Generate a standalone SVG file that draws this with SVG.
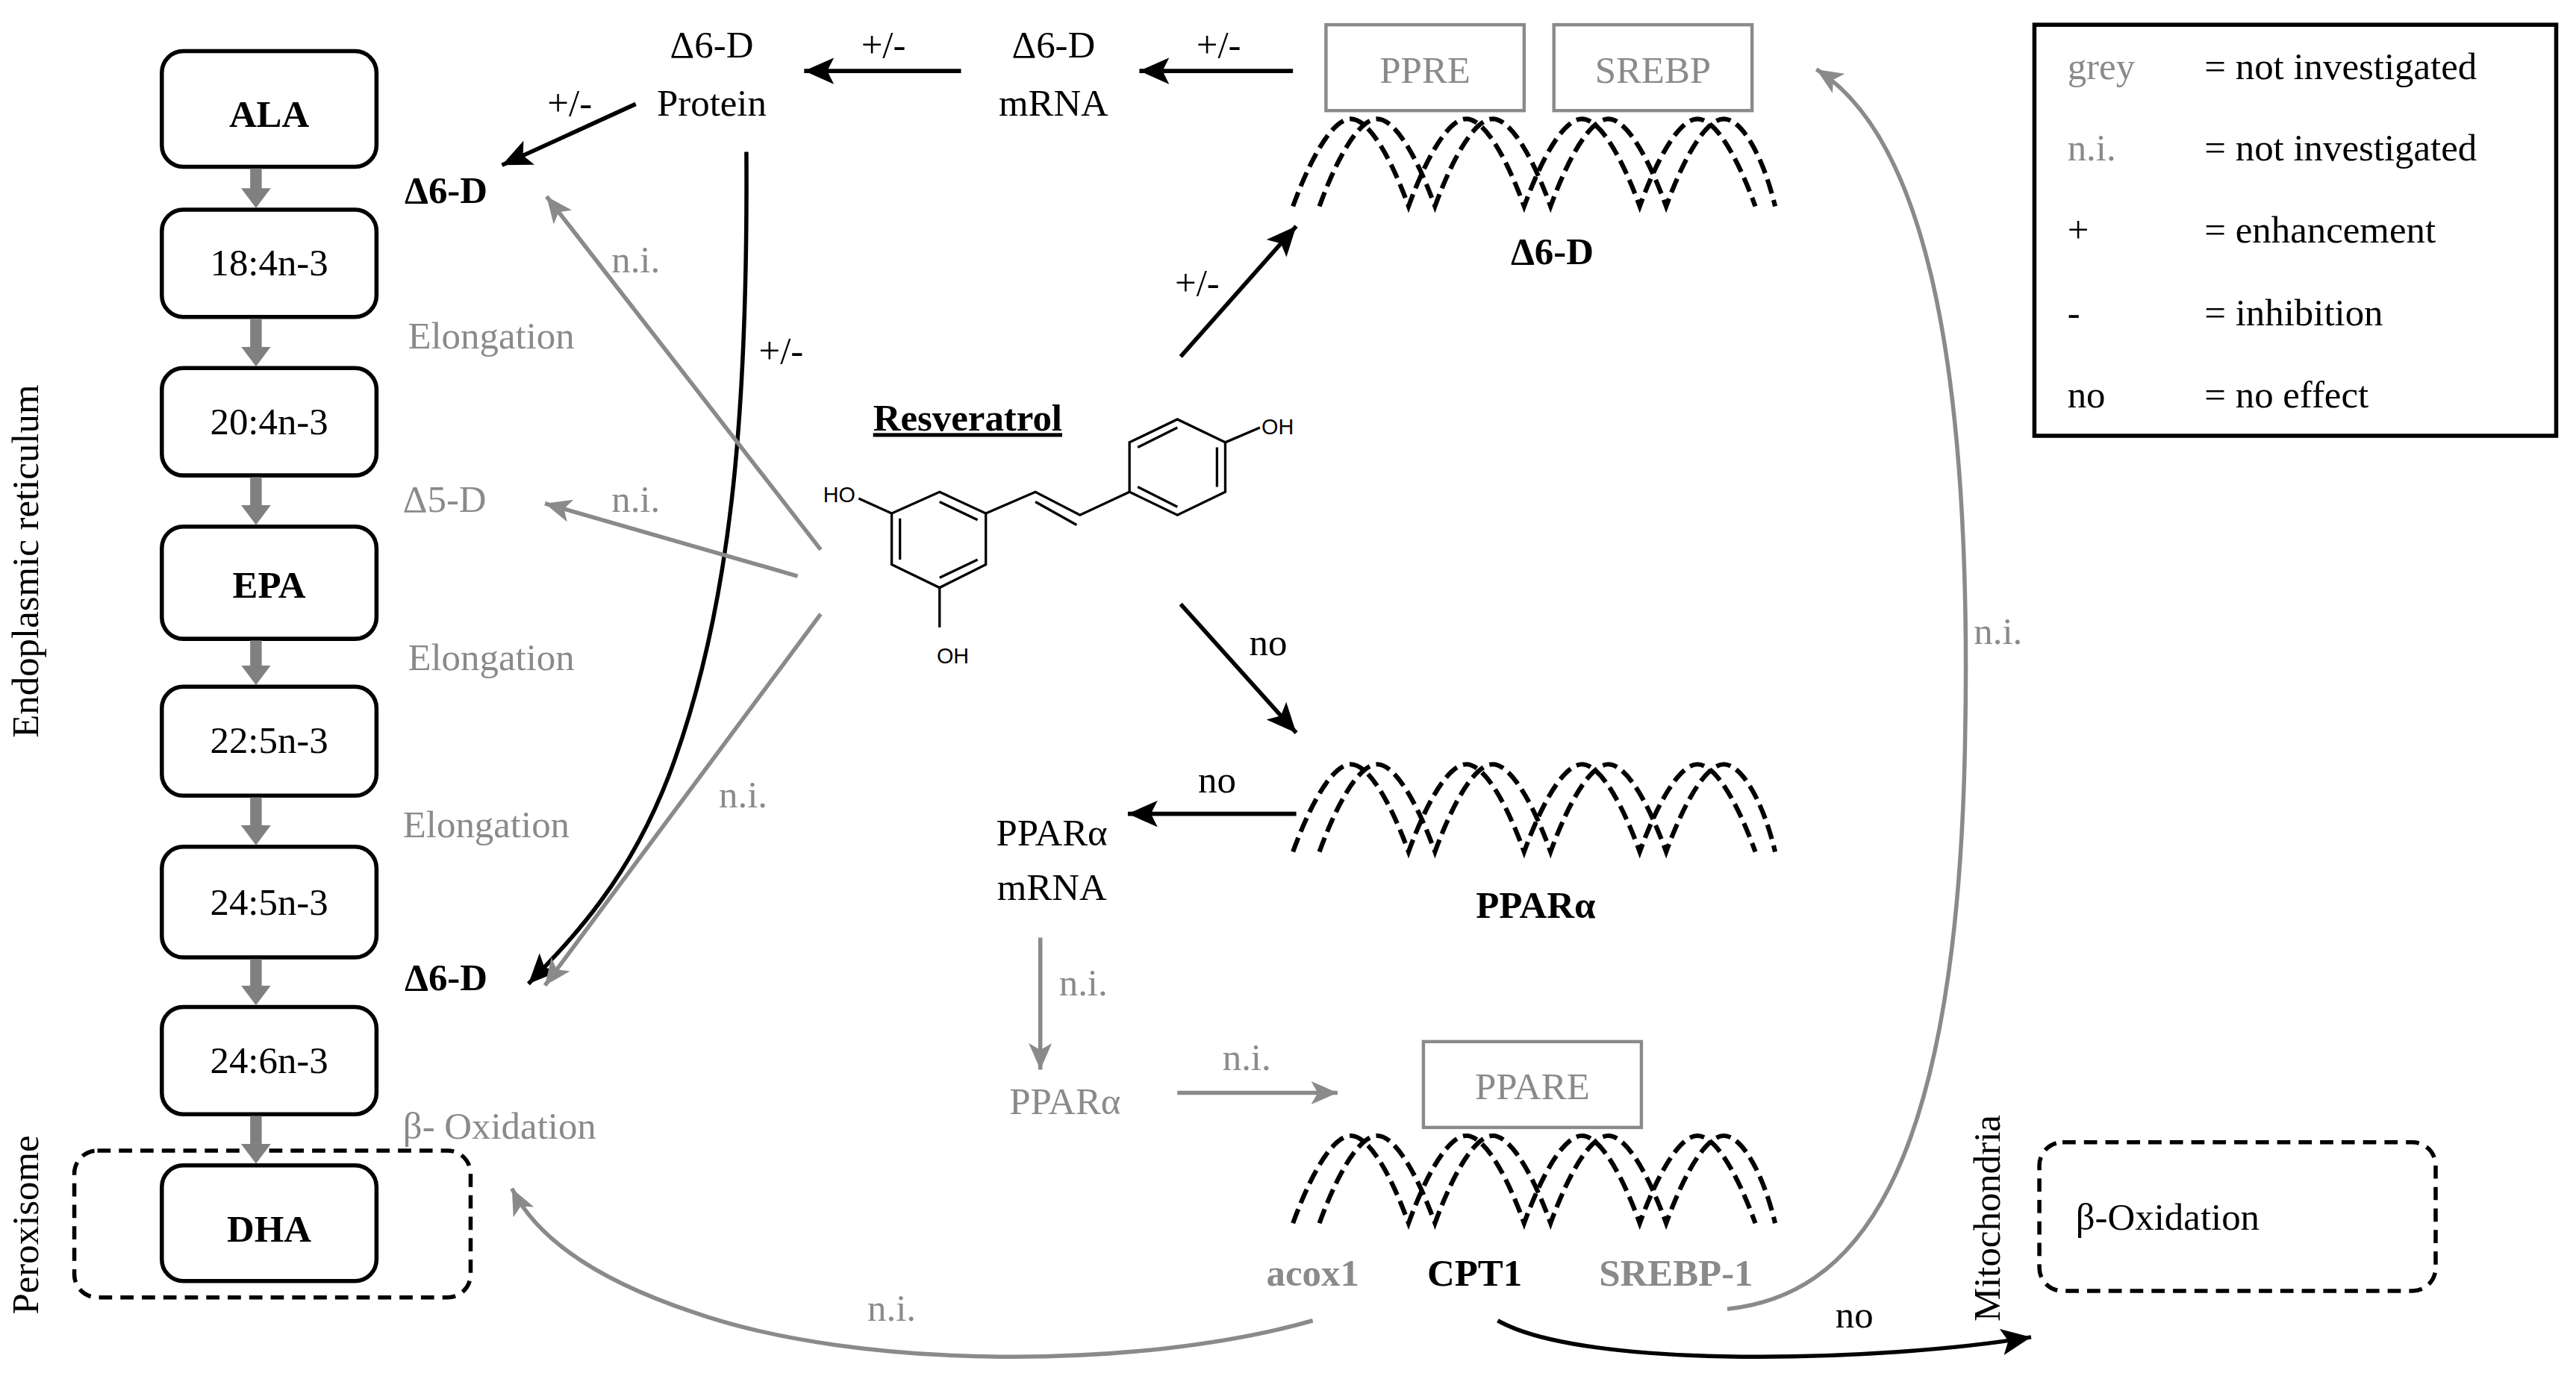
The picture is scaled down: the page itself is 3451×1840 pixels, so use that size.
<svg xmlns="http://www.w3.org/2000/svg" xmlns:xlink="http://www.w3.org/1999/xlink" width="3451" height="1840" viewBox="0 0 3451 1840">
<style>
.t,.g{font-family:'Liberation Serif','Times New Roman',serif;}
.t{font-size:23px;fill:#000;}
.g{font-size:23px;fill:#8a8a8a;}
.b{font-weight:bold;}
.box{fill:#fff;stroke:#000;stroke-width:2.5;}
.gbox{fill:#fff;stroke:#8a8a8a;stroke-width:2;}
.blk{stroke:#000;stroke-width:2.5;fill:none;}
.gry{stroke:#8a8a8a;stroke-width:2.5;fill:none;}
.step{stroke:#808080;stroke-width:7;fill:none;}
.dash{fill:none;stroke:#000;stroke-width:2.8;stroke-dasharray:9 4;}
.mol{stroke:#000;stroke-width:1.5;fill:none;}
.ml{font-family:'Liberation Sans',Arial,sans-serif;font-size:13px;}
</style>
<defs>
<marker id="ab" markerUnits="userSpaceOnUse" markerWidth="20" markerHeight="16" refX="18" refY="8" orient="auto"><path d="M0,0 L18,8 L0,16 L4,8 Z" fill="#000"/></marker>
<marker id="ag" markerUnits="userSpaceOnUse" markerWidth="18" markerHeight="14" refX="16" refY="7" orient="auto"><path d="M0,0 L16,7 L0,14 L4,7 Z" fill="#8a8a8a"/></marker>
<marker id="as" markerUnits="userSpaceOnUse" markerWidth="12" markerHeight="18" refX="2" refY="9" orient="auto"><path d="M0,0 L12,9 L0,18 Z" fill="#808080"/></marker>
<g id="helixShape">
<path class="dash" d="M0,53 C12,20 25,0 35,0 C45,0 58,20 70,53 C82,20 95,0 105,0 C115,0 128,20 140,53 C152,20 165,0 175,0 C185,0 198,20 210,53 C222,20 235,0 245,0 C255,0 268,20 280,53"/>
<path class="dash" d="M16,53 C28,20 41,0 51,0 C61,0 74,20 86,53 C98,20 111,0 121,0 C131,0 144,20 156,53 C168,20 181,0 191,0 C201,0 214,20 226,53 C238,20 251,0 261,0 C271,0 284,20 292,53"/>
</g>
</defs>
<rect width="3451" height="1840" fill="#fff"/>
<g transform="scale(2.2122)" font-family="'Liberation Serif', serif">
<g id="pathway">
<g id="n-ala"><rect class="box" x="98" y="31" width="130" height="70" rx="13"/><text class="t b" x="163" y="77" text-anchor="middle" font-size="20">ALA</text></g>
<g id="n-184"><rect class="box" x="98" y="127" width="130" height="65" rx="13"/><text class="t" x="163" y="167" text-anchor="middle" font-size="19">18:4n-3</text></g>
<g id="n-204"><rect class="box" x="98" y="223" width="130" height="65" rx="13"/><text class="t" x="163" y="263" text-anchor="middle" font-size="19">20:4n-3</text></g>
<g id="n-epa"><rect class="box" x="98" y="319" width="130" height="68" rx="13"/><text class="t b" x="163" y="362" text-anchor="middle" font-size="20">EPA</text></g>
<g id="n-225"><rect class="box" x="98" y="416" width="130" height="66" rx="13"/><text class="t" x="163" y="456" text-anchor="middle" font-size="19">22:5n-3</text></g>
<g id="n-245"><rect class="box" x="98" y="513" width="130" height="67" rx="13"/><text class="t" x="163" y="554" text-anchor="middle" font-size="19">24:5n-3</text></g>
<g id="n-246"><rect class="box" x="98" y="610" width="130" height="65" rx="13"/><text class="t" x="163" y="650" text-anchor="middle" font-size="19">24:6n-3</text></g>
<g id="peroxisome"><rect x="45" y="697" width="240" height="89" rx="14" fill="none" stroke="#000" stroke-width="2.5" stroke-dasharray="8 5"/></g>
<g id="n-dha"><rect class="box" x="98" y="706" width="130" height="70" rx="13"/><text class="t b" x="163" y="752" text-anchor="middle" font-size="20">DHA</text></g>
</g>
<g id="labels-left">
<text class="t b" x="245" y="123">Δ6-D</text>
<text class="g" x="247" y="211">Elongation</text>
<text class="g" x="244" y="310">Δ5-D</text>
<text class="g" x="247" y="406">Elongation</text>
<text class="g" x="244" y="507">Elongation</text>
<text class="t b" x="245" y="600">Δ6-D</text>
<text class="g" x="244" y="690">β- Oxidation</text>
<text class="t" font-size="16" transform="translate(23,340) rotate(-90)" text-anchor="middle">Endoplasmic reticulum</text>
<text class="t" font-size="16" transform="translate(23,742) rotate(-90)" text-anchor="middle">Peroxisome</text>
<text class="t" font-size="16" transform="translate(1211,738) rotate(-90)" text-anchor="middle">Mitochondria</text>
</g>
<g id="top-nodes">
<g id="n-protein"><text class="t" x="431" y="35" text-anchor="middle">Δ6-D</text><text class="t" x="431" y="70" text-anchor="middle">Protein</text></g>
<g id="n-mrna"><text class="t" x="638" y="35" text-anchor="middle">Δ6-D</text><text class="t" x="638" y="70" text-anchor="middle">mRNA</text></g>
<g id="n-ppre"><rect class="gbox" x="803" y="15" width="120" height="52"/><text class="g" x="863" y="50" text-anchor="middle">PPRE</text></g>
<g id="n-srebp"><rect class="gbox" x="941" y="15" width="120" height="52"/><text class="g" x="1001" y="50" text-anchor="middle">SREBP</text></g>
<g id="n-helix1"><use xlink:href="#helixShape" x="783" y="72"/><text class="t b" x="940" y="160" text-anchor="middle">Δ6-D</text></g>
</g>
<g id="n-resveratrol">
<text class="t b" x="586" y="261" text-anchor="middle" font-size="26" text-decoration="underline">Resveratrol</text>
<path class="mol" d="M569,298 L597,311 L597,342 L569,356 L540,342 L540,311 Z"/>
<path class="mol" d="M569,304 L592,315 M545,314 L545,339 M569,350 L592,339"/>
<path class="mol" d="M597,311 L627,298 L654,312 L684,298"/>
<path class="mol" d="M627,304 L652,318"/>
<path class="mol" d="M684,298 L684,268 L713,254 L742,268 L742,298 L713,312 Z"/>
<path class="mol" d="M689,271 L713,259 M737,271 L737,295 M689,295 L713,307"/>
<path class="mol" d="M742,268 L763,259 M540,311 L520,302 M569,356 L569,380"/>
<text class="ml" x="764" y="263">OH</text>
<text class="ml" x="518" y="304" text-anchor="end">HO</text>
<text class="ml" x="577" y="402" text-anchor="middle">OH</text>
</g>
<g id="mid-nodes">
<g id="n-helix2"><use xlink:href="#helixShape" x="783" y="463"/><text class="t b" x="930" y="556" text-anchor="middle">PPARα</text></g>
<g id="n-ppar-mrna"><text class="t" x="637" y="512" text-anchor="middle">PPARα</text><text class="t" x="637" y="545" text-anchor="middle">mRNA</text></g>
<g id="n-ppar"><text class="g" x="645" y="675" text-anchor="middle">PPARα</text></g>
<g id="n-ppare"><rect class="gbox" x="862" y="631" width="132" height="52"/><text class="g" x="928" y="666" text-anchor="middle">PPARE</text></g>
<g id="n-helix3"><use xlink:href="#helixShape" x="783" y="688"/>
<text class="g b" x="795" y="779" text-anchor="middle">acox1</text>
<text class="t b" x="893" y="779" text-anchor="middle">CPT1</text>
<text class="g b" x="1015" y="779" text-anchor="middle">SREBP-1</text></g>
<g id="mitochondria"><rect x="1235" y="692" width="240" height="90" rx="14" fill="none" stroke="#000" stroke-width="2.5" stroke-dasharray="8 5"/><text class="t" x="1257" y="745">β-Oxidation</text></g>
</g>
<g id="legend">
<rect x="1232" y="15" width="316" height="249" fill="#fff" stroke="#000" stroke-width="2.5"/>
<text class="g" x="1252" y="48">grey</text><text class="t" x="1335" y="48">= not investigated</text>
<text class="g" x="1252" y="97">n.i.</text><text class="t" x="1335" y="97">= not investigated</text>
<text class="t" x="1252" y="147">+</text><text class="t" x="1335" y="147">= enhancement</text>
<text class="t" x="1252" y="197">-</text><text class="t" x="1335" y="197">= inhibition</text>
<text class="t" x="1252" y="247">no</text><text class="t" x="1335" y="247">= no effect</text>
</g>
<g id="connectors">
<line class="step" x1="155" y1="102" x2="155" y2="116" marker-end="url(#as)"/>
<line class="step" x1="155" y1="193" x2="155" y2="212" marker-end="url(#as)"/>
<line class="step" x1="155" y1="289" x2="155" y2="308" marker-end="url(#as)"/>
<line class="step" x1="155" y1="388" x2="155" y2="405" marker-end="url(#as)"/>
<line class="step" x1="155" y1="483" x2="155" y2="502" marker-end="url(#as)"/>
<line class="step" x1="155" y1="581" x2="155" y2="599" marker-end="url(#as)"/>
<line class="step" x1="155" y1="676" x2="155" y2="695" marker-end="url(#as)"/>
<line class="blk" x1="582" y1="43" x2="487" y2="43" stroke-width="3.5" marker-end="url(#ab)"/>
<text class="t" x="535" y="35" text-anchor="middle">+/-</text>
<line class="blk" x1="783" y1="43" x2="690" y2="43" stroke-width="3.5" marker-end="url(#ab)"/>
<text class="t" x="738" y="35" text-anchor="middle">+/-</text>
<line class="blk" x1="385" y1="63" x2="304" y2="100" marker-end="url(#ab)"/>
<text class="t" x="345" y="70" text-anchor="middle">+/-</text>
<path class="blk" d="M452,92 C453,250 443,370 405,470 C380,535 345,570 320,596" marker-end="url(#ab)"/>
<text class="t" x="473" y="220" text-anchor="middle">+/-</text>
<line class="gry" x1="497" y1="333" x2="331" y2="119" marker-end="url(#ag)"/>
<text class="g" x="385" y="165" text-anchor="middle">n.i.</text>
<line class="gry" x1="483" y1="349" x2="330" y2="305" stroke-width="3" marker-end="url(#ag)"/>
<text class="g" x="385" y="310" text-anchor="middle">n.i.</text>
<line class="gry" x1="497" y1="372" x2="330" y2="597" marker-end="url(#ag)"/>
<text class="g" x="450" y="489" text-anchor="middle">n.i.</text>
<line class="blk" x1="715" y1="216" x2="785" y2="137" marker-end="url(#ab)"/>
<text class="t" x="725" y="179" text-anchor="middle">+/-</text>
<line class="blk" x1="715" y1="366" x2="785" y2="444" marker-end="url(#ab)"/>
<text class="t" x="768" y="397" text-anchor="middle">no</text>
<line class="blk" x1="785" y1="493" x2="683" y2="493" stroke-width="3.5" marker-end="url(#ab)"/>
<text class="t" x="737" y="480" text-anchor="middle">no</text>
<line class="gry" x1="630" y1="568" x2="630" y2="648" stroke-width="1.8" marker-end="url(#ag)"/>
<text class="g" x="656" y="603" text-anchor="middle">n.i.</text>
<line class="gry" x1="713" y1="662" x2="810" y2="662" stroke-width="3" marker-end="url(#ag)"/>
<text class="g" x="755" y="648" text-anchor="middle">n.i.</text>
<path class="gry" d="M1046,793 C1120,785 1185,720 1190,450 C1195,200 1160,80 1100,42" stroke-width="2" marker-end="url(#ag)"/>
<text class="g" x="1210" y="390" text-anchor="middle">n.i.</text>
<path class="gry" d="M795,800 C690,830 520,830 420,795 C360,775 325,750 310,720" stroke-width="3" marker-end="url(#ag)"/>
<text class="g" x="540" y="800" text-anchor="middle">n.i.</text>
<path class="blk" d="M907,800 C960,830 1140,825 1230,810" stroke-width="3.5" marker-end="url(#ab)"/>
<text class="t" x="1123" y="804" text-anchor="middle">no</text>
</g>
</g>
</svg>
